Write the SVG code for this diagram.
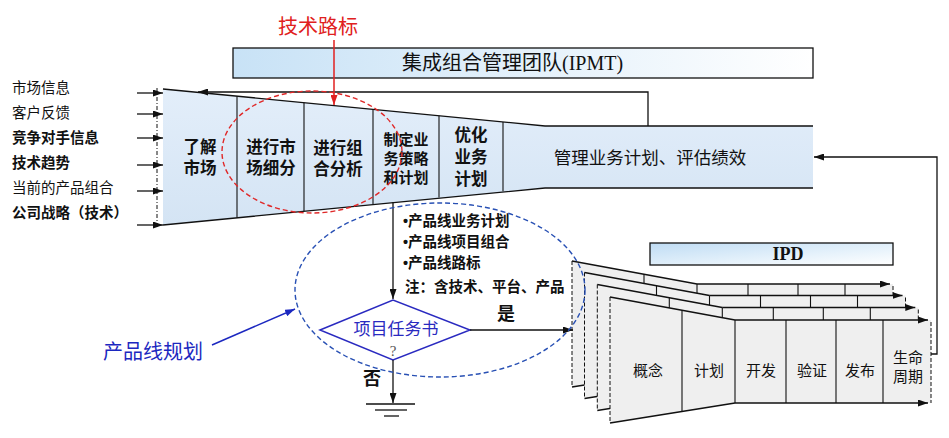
<svg xmlns="http://www.w3.org/2000/svg" width="949" height="438" viewBox="0 0 949 438">
<defs>
<style>
.t{font-family:"Liberation Sans","Noto Sans CJK SC",sans-serif;fill:#111}
.s{font-family:"Liberation Serif","Noto Sans CJK SC",serif;fill:#111}
.b{font-weight:bold}
.ln{stroke:#111;stroke-width:1.3;fill:none}
.dv{stroke:#111;stroke-width:1.1}
.pg{fill:#efefef;stroke:none}
.dash{stroke:#111;stroke-width:1;stroke-dasharray:4 2;fill:none}
</style>
<marker id="ah" viewBox="0 0 10 7" refX="10" refY="3.5" markerWidth="10" markerHeight="7" markerUnits="userSpaceOnUse" orient="auto"><path d="M0,0 L10,3.5 L0,7 z" fill="#111"/></marker>
<marker id="ahr" viewBox="0 0 10 7" refX="10" refY="3.5" markerWidth="10" markerHeight="7" markerUnits="userSpaceOnUse" orient="auto"><path d="M0,0 L10,3.5 L0,7 z" fill="#e02020"/></marker>
<marker id="ahb" viewBox="0 0 10 7" refX="10" refY="3.5" markerWidth="10" markerHeight="7" markerUnits="userSpaceOnUse" orient="auto"><path d="M0,0 L10,3.5 L0,7 z" fill="#1c28c0"/></marker>
<linearGradient id="gIpmt" x1="0" y1="0" x2="1" y2="0"><stop offset="0" stop-color="#c8e2f6"/><stop offset="1" stop-color="#ffffff"/></linearGradient>
<linearGradient id="gIpd" x1="0" y1="0" x2="1" y2="1"><stop offset="0" stop-color="#bfdcf4"/><stop offset="0.6" stop-color="#e6f2fb"/><stop offset="1" stop-color="#ffffff"/></linearGradient>
<linearGradient id="gFun" x1="0" y1="0" x2="0" y2="1"><stop offset="0" stop-color="#e3eefa"/><stop offset="1" stop-color="#d4e4f4"/></linearGradient>
<g id="layer">
<polygon class="pg" points="610,297 735,320 931,320 931,403 735,403 610,423"/>
<line class="dash" x1="610" y1="297" x2="610" y2="423"/>
<line class="dash" x1="931" y1="322" x2="931" y2="403"/>
<polyline class="ln" points="610,297 735,320"/>
<line class="ln" x1="735" y1="320" x2="928" y2="320" marker-end="url(#ah)"/>
<polyline class="ln" points="610,423 735,403"/>
<line class="ln" x1="735" y1="403" x2="928" y2="403" marker-end="url(#ah)"/>
<line class="dv" x1="682" y1="310.2" x2="682" y2="411.5"/>
<line class="dv" x1="735" y1="320" x2="735" y2="403"/>
<line class="dv" x1="786" y1="320" x2="786" y2="403"/>
<line class="dv" x1="836" y1="320" x2="836" y2="403"/>
<line class="dv" x1="883" y1="320" x2="883" y2="403"/>
</g>
</defs>
<rect width="949" height="438" fill="#ffffff"/>

<g id="title-tech-roadmap">
<text x="318" y="34" text-anchor="middle" class="s" style="fill:#e02020;font-size:20px">技术路标</text>
</g>

<g id="ipmt">
<rect x="233" y="48" width="580" height="30" fill="url(#gIpmt)" stroke="#111" stroke-width="1.3"/>
<text x="402" y="70" class="s" style="font-size:20px">集成组合管理团队(IPMT)</text>
</g>

<g id="inputs">
<text x="12" y="93" class="t" style="font-size:14.5px">市场信息</text>
<text x="12" y="118" class="t" style="font-size:14.5px">客户反馈</text>
<text x="12" y="143" class="t b" style="font-size:14.5px">竞争对手信息</text>
<text x="12" y="168" class="t b" style="font-size:14.5px">技术趋势</text>
<text x="12" y="193" class="t" style="font-size:14.5px">当前的产品组合</text>
<text x="12" y="218" class="t b" style="font-size:14.5px">公司战略（技术）</text>
</g>

<g id="funnel">
<polygon points="163,89 545,126 813,126 813,188 545,188 163,225" fill="url(#gFun)"/>
<polyline class="ln" points="163,89 545,126 813,126"/>
<polyline class="ln" points="163,225 545,188 813,188"/>
<line class="dv" x1="237" y1="96.2" x2="237" y2="217.6"/>
<line class="dv" x1="304" y1="102.7" x2="304" y2="211"/>
<line class="dv" x1="373" y1="109.3" x2="373" y2="204.1"/>
<line class="dv" x1="439" y1="115.7" x2="439" y2="197.5"/>
<line class="dv" x1="503" y1="121.9" x2="503" y2="191.2"/>
<text x="200" y="153" text-anchor="middle" class="t b" style="font-size:16.5px">了解</text>
<text x="200" y="174" text-anchor="middle" class="t b" style="font-size:16.5px">市场</text>
<text x="271" y="153" text-anchor="middle" class="t b" style="font-size:16.5px">进行市</text>
<text x="271" y="174" text-anchor="middle" class="t b" style="font-size:16.5px">场细分</text>
<text x="338" y="154" text-anchor="middle" class="t b" style="font-size:16.5px">进行组</text>
<text x="338" y="175" text-anchor="middle" class="t b" style="font-size:16.5px">合分析</text>
<text x="406" y="145" text-anchor="middle" class="t b" style="font-size:15px">制定业</text>
<text x="406" y="164" text-anchor="middle" class="t b" style="font-size:15px">务策略</text>
<text x="406" y="183" text-anchor="middle" class="t b" style="font-size:15px">和计划</text>
<text x="471" y="141" text-anchor="middle" class="t b" style="font-size:16.5px">优化</text>
<text x="471" y="163" text-anchor="middle" class="t b" style="font-size:16.5px">业务</text>
<text x="471" y="185" text-anchor="middle" class="t b" style="font-size:16.5px">计划</text>
<text x="650" y="164" text-anchor="middle" class="t" style="font-size:17.5px">管理业务计划、评估绩效</text>
</g>

<g id="bullets">
<text x="403" y="226" class="t b" style="font-size:14.5px">•产品线业务计划</text>
<text x="403" y="247" class="t b" style="font-size:14.5px">•产品线项目组合</text>
<text x="403" y="268" class="t b" style="font-size:14.5px">•产品线路标</text>
<text x="405" y="292" class="t b" style="font-size:14.5px">注：含技术、平台、产品</text>
</g>

<g id="decision">
<polygon points="320,330 393,300 470,330 393,360" fill="#ffffff" stroke="#2a2ac0" stroke-width="1.5"/>
<text x="396" y="335" text-anchor="middle" class="t" style="fill:#2a2ac0;font-size:17px">项目任务书</text>
<text x="393" y="356" text-anchor="middle" class="s" style="fill:#555;font-size:15px">?</text>
<text x="506" y="320" text-anchor="middle" class="s b" style="font-size:18px">是</text>
<text x="372" y="385" text-anchor="middle" class="s b" style="font-size:18px">否</text>
</g>

<g id="ground">
<line class="ln" x1="366" y1="404" x2="415" y2="404"/>
<line class="ln" x1="375" y1="410" x2="407" y2="410"/>
<line class="ln" x1="384" y1="416" x2="399" y2="416"/>
</g>

<g id="ipd-stack">
<use href="#layer" transform="translate(-38,-36)"/>
<use href="#layer" transform="translate(-25.5,-24.5)"/>
<use href="#layer" transform="translate(-12.7,-12.5)"/>
<use href="#layer"/>
<text x="648" y="376" text-anchor="middle" class="t" style="font-size:15px">概念</text>
<text x="709" y="376" text-anchor="middle" class="t" style="font-size:15px">计划</text>
<text x="761" y="376" text-anchor="middle" class="t" style="font-size:15px">开发</text>
<text x="812" y="376" text-anchor="middle" class="t" style="font-size:15px">验证</text>
<text x="860" y="376" text-anchor="middle" class="t" style="font-size:15px">发布</text>
<text x="908" y="363" text-anchor="middle" class="t" style="font-size:15px">生命</text>
<text x="908" y="382" text-anchor="middle" class="t" style="font-size:15px">周期</text>
</g>

<g id="ipd">
<rect x="650" y="243" width="243" height="22" fill="url(#gIpd)" stroke="#111" stroke-width="1.3"/>
<text x="788" y="260" text-anchor="middle" class="s b" style="font-size:18px">IPD</text>
</g>

<g id="plan-label">
<text x="153" y="359" text-anchor="middle" class="t" style="fill:#1c28c0;font-size:20px">产品线规划</text>
</g>

<g id="connectors">
<line class="dash" x1="157" y1="88" x2="157" y2="228" style="stroke-dasharray:4 2 1 2"/>
<line class="ln" x1="137" y1="93" x2="163" y2="93" marker-end="url(#ah)"/>
<line class="ln" x1="137" y1="114" x2="163" y2="114" marker-end="url(#ah)"/>
<line class="ln" x1="137" y1="138" x2="163" y2="138" marker-end="url(#ah)"/>
<line class="ln" x1="137" y1="165" x2="163" y2="165" marker-end="url(#ah)"/>
<line class="ln" x1="137" y1="191" x2="163" y2="191" marker-end="url(#ah)"/>
<line class="ln" x1="137" y1="225" x2="163" y2="225" marker-end="url(#ah)"/>
<polyline class="ln" points="648,126 648,92 198,92" marker-end="url(#ah)"/>
<line x1="334" y1="40" x2="334" y2="105" stroke="#e02020" stroke-width="1.5" marker-end="url(#ahr)"/>
<line class="ln" x1="393" y1="202" x2="393" y2="299" marker-end="url(#ah)"/>
<line class="ln" x1="470" y1="330" x2="573" y2="330" marker-end="url(#ah)"/>
<line class="ln" x1="393" y1="360" x2="393" y2="403" marker-end="url(#ah)"/>
<polyline class="ln" points="931,354 937,354 937,157 814,157" marker-end="url(#ah)"/>
<line x1="212" y1="345" x2="295" y2="309" stroke="#1c28c0" stroke-width="1.5" marker-end="url(#ahb)"/>
<ellipse cx="312" cy="152" rx="90" ry="61" fill="none" stroke="#e02828" stroke-width="1.4" stroke-dasharray="5 3"/>
<ellipse cx="440" cy="290" rx="145" ry="87" fill="none" stroke="#2850b4" stroke-width="1.4" stroke-dasharray="5 3"/>
</g>
</svg>
